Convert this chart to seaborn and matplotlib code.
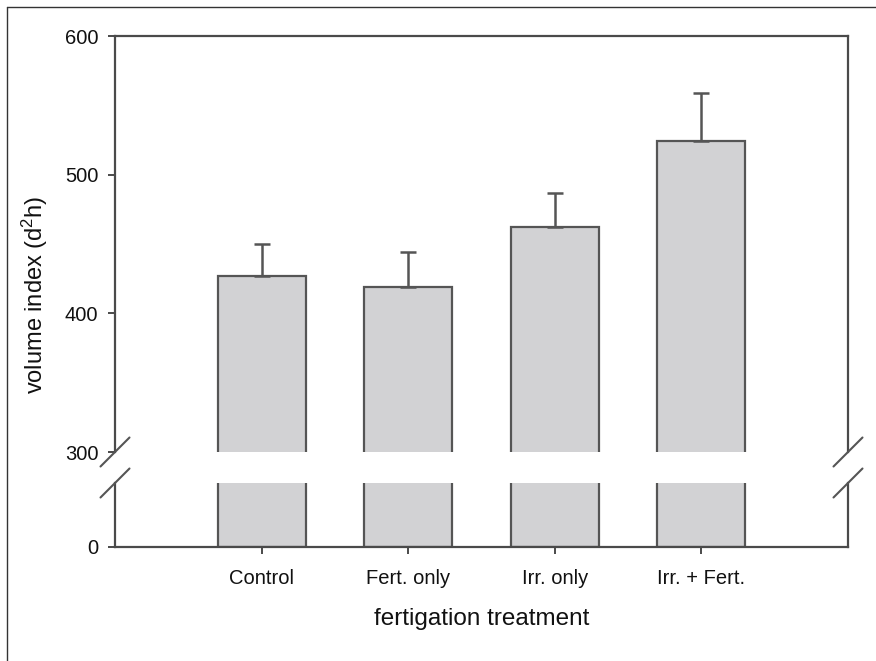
import matplotlib
matplotlib.use("Agg")
import matplotlib.pyplot as plt
import seaborn as sns
import pandas as pd
from matplotlib.lines import Line2D

categories = ["Control", "Fert. only", "Irr. only", "Irr. + Fert."]
means = [427, 419, 462, 524]
errors = [23, 25, 25, 35]
upper_ticks = [300, 400, 500, 600]
lower_ticks = [0]

sns.set_theme(style="white")
plt.rcParams["font.family"] = ["Liberation Sans", "DejaVu Sans"]
plt.rcParams["mathtext.default"] = "regular"

W, H = 876, 661
fig = plt.figure(figsize=(W / 100, H / 100), dpi=100)

def fx(px):
    return px / W

def fy(py):
    return 1 - py / H

left, right = 115, 848
ax_top = fig.add_axes([fx(left), fy(452), fx(right - left), fy(36) - fy(452)])
ax_bot = fig.add_axes([fx(left), fy(547), fx(right - left), fy(483) - fy(547)])

df = pd.DataFrame({"treatment": categories, "value": means})
bar_fill = "#d2d2d4"
edge = "#555555"
spine_c = "#4a4a4a"

for ax in (ax_top, ax_bot):
    sns.barplot(data=df, x="treatment", y="value", color=bar_fill, width=0.6,
                edgecolor=edge, linewidth=1.6, saturation=1, errorbar=None, ax=ax)
    ax.set_xlim(-1, 4)
    ax.set_xlabel("")
    ax.set_ylabel("")
    ax.set_facecolor("white")
    for s in ax.spines.values():
        s.set_color(spine_c)
        s.set_linewidth(1.6)

ax_top.errorbar(range(len(categories)), means, yerr=[[0] * len(errors), errors],
                fmt="none", ecolor=edge, elinewidth=1.8, capsize=6, capthick=1.8, zorder=5)

ax_top.set_ylim(300, 600)
ax_top.set_yticks(upper_ticks)
ax_top.spines["bottom"].set_visible(False)
ax_top.tick_params(axis="x", bottom=False, labelbottom=False)
ax_top.tick_params(axis="y", left=True, length=5, width=1.4, color=spine_c,
                   pad=7, labelsize=14.5, labelcolor="#111111")

scale = 139 / 100.0
ax_bot.set_ylim(0, (547 - 483) / scale)
ax_bot.set_yticks(lower_ticks)
ax_bot.spines["top"].set_visible(False)
ax_bot.tick_params(axis="y", left=True, length=5, width=1.4, color=spine_c,
                   pad=7, labelsize=14.5, labelcolor="#111111")
ax_bot.tick_params(axis="x", bottom=True, length=5, width=1.4, color=spine_c,
                   pad=11, labelsize=14.5, labelcolor="#111111")

# break marks
for xpx in (left, right):
    for ypx in (452, 483):
        fig.add_artist(Line2D([fx(xpx - 14.5), fx(xpx + 14.5)],
                              [fy(ypx + 14.5), fy(ypx - 14.5)],
                              transform=fig.transFigure, color=edge, lw=1.5))

fig.text(fx(35), fy(295), "volume index (d$^2$h)", rotation=90, ha="center",
         va="center", fontsize=17, color="#111111")
fig.text(fx(481.5), fy(619), "fertigation treatment", ha="center", va="center",
         fontsize=17.5, color="#111111")

# outer frame (left and top edges)
fig.add_artist(Line2D([fx(7), fx(7)], [fy(661), fy(7)], transform=fig.transFigure,
                      color="#333333", lw=1.0))
fig.add_artist(Line2D([fx(7), fx(876)], [fy(7), fy(7)], transform=fig.transFigure,
                      color="#333333", lw=1.0))

fig.savefig("out.png", dpi=100, facecolor="white")
